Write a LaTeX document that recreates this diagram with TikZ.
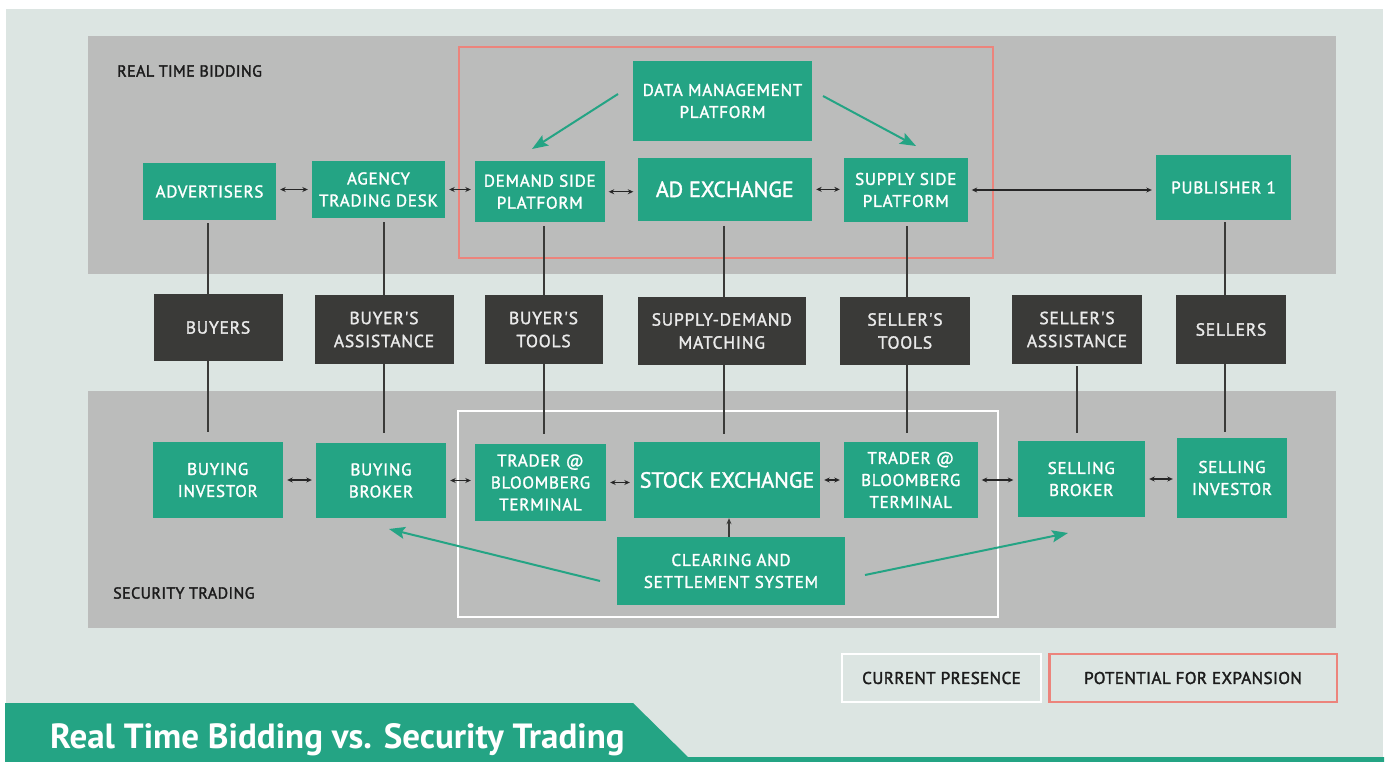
\documentclass[tikz,border=0pt]{standalone}
\usepackage{fontspec}
\setmainfont{PT Sans}
\newfontfamily\boxfont[FakeBold=1.6,LetterSpace=4.5]{PT Sans}
\newfontfamily\bigfont[FakeBold=1.6]{PT Sans}
\newfontfamily\labfont[FakeBold=2,LetterSpace=2.5]{PT Sans}
\usetikzlibrary{arrows.meta,calc}
\definecolor{bgc}{RGB}{220,229,226}
\definecolor{panel}{RGB}{187,188,187}
\definecolor{grn}{RGB}{36,164,132}
\definecolor{dark}{RGB}{58,58,56}
\definecolor{redb}{RGB}{236,132,124}
\definecolor{txtlight}{RGB}{234,234,234}
\definecolor{lbl}{RGB}{28,28,28}
\begin{document}
\begin{tikzpicture}[x=1pt,y=-1pt,
  wh/.style 2 args={minimum width=#1pt, minimum height=#2pt},
  gbox/.style={fill=grn, text=white, align=center, inner sep=0pt, font=\boxfont\fontsize{17}{22}\selectfont},
  gbig/.style={gbox, font=\bigfont\fontsize{22}{26}\selectfont},
  dbox/.style={fill=dark, text=txtlight, align=center, inner sep=0pt, font=\boxfont\fontsize{17.5}{23}\selectfont},
  lab/.style={text=lbl, inner sep=0pt, font=\labfont\fontsize{16}{20}\selectfont},
  legendbox/.style={line width=2.5pt, text=lbl, inner sep=0pt, font=\labfont\fontsize{17}{20}\selectfont},
  dbl/.style={{Stealth[length=5.5pt,width=5pt]}-{Stealth[length=5.5pt,width=5pt]}, line width=1.1pt, black!85, shorten >=4pt, shorten <=4pt},
  vline/.style={line width=2pt, dark},
  garrow/.style={grn, line width=2pt, -{Stealth[length=16pt,width=12pt,inset=3pt]}}
]
\useasboundingbox (0,0) rectangle (1385,762);
\fill[white] (0,0) rectangle (1385,762);
\fill[bgc] (6,9) rectangle (1383,762);
% panels
\fill[panel] (88,36) rectangle (1336,274);
\fill[panel] (88,391) rectangle (1336,628);
\draw[redb, line width=2pt] (459,47) rectangle (993,258);
\draw[white, line width=2pt] (458,411) rectangle (998,617);
\node[lab, anchor=west] (rtb) at (117,71) {REAL TIME BIDDING};
\node[lab, anchor=west] (stl) at (113,593) {SECURITY TRADING};

% top row
\node[gbox, wh={133}{57}] (adv) at (209.5,191.5) {ADVERTISERS};
\node[gbox, wh={133}{57}] (agency) at (378.5,189.5) {AGENCY\\TRADING DESK};
\node[gbox, wh={129.5}{60.5}] (dsp) at (539.75,191.75) {DEMAND SIDE\\PLATFORM};
\node[gbig, wh={174.5}{62.7}] (adx) at (724.75,189.35) {AD EXCHANGE};
\node[gbox, wh={179}{80}] (dmp) at (722.5,101) {DATA MANAGEMENT\\PLATFORM};
\node[gbox, wh={123.5}{64}] (ssp) at (905.75,190) {SUPPLY SIDE\\PLATFORM};
\node[gbox, wh={135}{65}] (pub) at (1223.5,187.5) {PUBLISHER 1};

% middle row
\node[dbox, wh={129}{67}] (buyers) at (218,327.5) {BUYERS};
\node[dbox, wh={139}{69}] (bassist) at (384,329.5) {BUYER'S\\ASSISTANCE};
\node[dbox, wh={118}{69}] (btools) at (543.5,329.5) {BUYER'S\\TOOLS};
\node[dbox, wh={168.5}{68}] (sdm) at (721.75,331) {SUPPLY-DEMAND\\MATCHING};
\node[dbox, wh={130}{68}] (stools) at (905,331) {SELLER'S\\TOOLS};
\node[dbox, wh={130}{69}] (sassist) at (1077,329.5) {SELLER'S\\ASSISTANCE};
\node[dbox, wh={110}{69}] (sellers) at (1231,329.5) {SELLERS};

% bottom row
\node[gbox, wh={130.5}{76}] (bi) at (217.75,480) {BUYING\\INVESTOR};
\node[gbox, wh={130}{75}] (bb) at (381,480.5) {BUYING\\BROKER};
\node[gbox, wh={131}{77}] (tl) at (540.5,482.5) {TRADER @\\BLOOMBERG\\TERMINAL};
\node[gbig, wh={186}{76}] (se) at (727,480) {STOCK EXCHANGE};
\node[gbox, wh={133.5}{76}] (tr) at (910.75,480) {TRADER @\\BLOOMBERG\\TERMINAL};
\node[gbox, wh={127.5}{76}] (sb) at (1081.25,479) {SELLING\\BROKER};
\node[gbox, wh={110}{80}] (si) at (1232,478) {SELLING\\INVESTOR};
\node[gbox, wh={228}{68}] (cs) at (731,571) {CLEARING AND\\SETTLEMENT SYSTEM};

% legend
\node[legendbox, draw=white, wh={199}{48}] (cur) at (941.5,678) {CURRENT PRESENCE};
\node[legendbox, draw=redb, wh={287.5}{48}] (pot) at (1193,678) {POTENTIAL FOR EXPANSION};

% banner
\fill[grn] (5,703) -- (633,703) -- (688,757) -- (1384,757) -- (1384,762) -- (5,762) -- cycle;
\node[anchor=base west, text=white, inner sep=0pt, font=\fontsize{35}{37}\selectfont\bfseries] (title) at (50,748) {Real Time Bidding vs. Security Trading};

% horizontal double arrows, top
\draw[dbl] (agency.west -| adv.east) -- (agency.west);
\draw[dbl] (agency.east) -- (agency.east -| dsp.west);
\draw[dbl] (dsp.east) -- (dsp.east -| adx.west);
\draw[dbl] (adx.east) -- (adx.east -| ssp.west);
\draw[dbl] (ssp.east) -- (ssp.east -| pub.west);
% bottom
\draw[dbl] (bi.east) -- (bi.east -| bb.west);
\draw[dbl] (bb.east) -- (bb.east -| tl.west);
\draw[dbl] (tl.east) -- (tl.east -| se.west);
\draw[dbl] (se.east) -- (se.east -| tr.west);
\draw[dbl] (tr.east) -- (tr.east -| sb.west);
\draw[dbl] (sb.east) -- (sb.east -| si.west);

% vertical lines
\coordinate (l1) at (207.5,0);
\coordinate (l2) at (384,0);
\coordinate (l3) at (544,0);
\coordinate (l4) at (724,0);
\coordinate (l5) at (906.5,0);
\coordinate (l6) at (1077,0);
\coordinate (l7) at (1225,0);
\coordinate (l8) at (729,0);
\draw[vline, shorten <=3pt] (adv.south -| l1) -- (buyers.north -| l1);
\draw[vline, shorten >=10pt] (buyers.south -| l1) -- (bi.north -| l1);
\draw[vline, shorten <=4pt] (agency.south -| l2) -- (bassist.north -| l2);
\draw[vline, shorten >=10pt] (bassist.south -| l2) -- (bb.north -| l2);
\draw[vline, shorten <=4pt] (dsp.south -| l3) -- (btools.north -| l3);
\draw[vline, shorten >=10pt] (btools.south -| l3) -- (tl.north -| l3);
\draw[vline, shorten <=5pt] (adx.south -| l4) -- (sdm.north -| l4);
\draw[vline, shorten >=8pt] (sdm.south -| l4) -- (se.north -| l4);
\draw[vline, shorten <=4pt] (ssp.south -| l5) -- (stools.north -| l5);
\draw[vline, shorten >=9pt] (stools.south -| l5) -- (tr.north -| l5);
\draw[vline, shorten <=2pt, shorten >=8pt] (sassist.south -| l6) -- (sb.north -| l6);
\draw[vline, shorten <=2pt] (pub.south -| l7) -- (sellers.north -| l7);
\draw[vline, shorten >=6pt] (sellers.south -| l7) -- (si.north -| l7);
\draw[line width=1.3pt, dark, -{Stealth[length=6pt,width=5pt]}] (cs.north -| l8) -- (se.south -| l8);

% green arrows
\coordinate (g1s) at (618,94);
\coordinate (g1e) at (532,149);
\coordinate (g2s) at (823,96);
\coordinate (g2e) at (916,146);
\coordinate (g3s) at (600,581);
\coordinate (g3e) at (389,529);
\coordinate (g4s) at (865,575);
\coordinate (g4e) at (1068,533);
\draw[garrow] (g1s) -- (g1e);
\draw[garrow] (g2s) -- (g2e);
\draw[garrow] (g3s) -- (g3e);
\draw[garrow] (g4s) -- (g4e);
\end{tikzpicture}
\end{document}
